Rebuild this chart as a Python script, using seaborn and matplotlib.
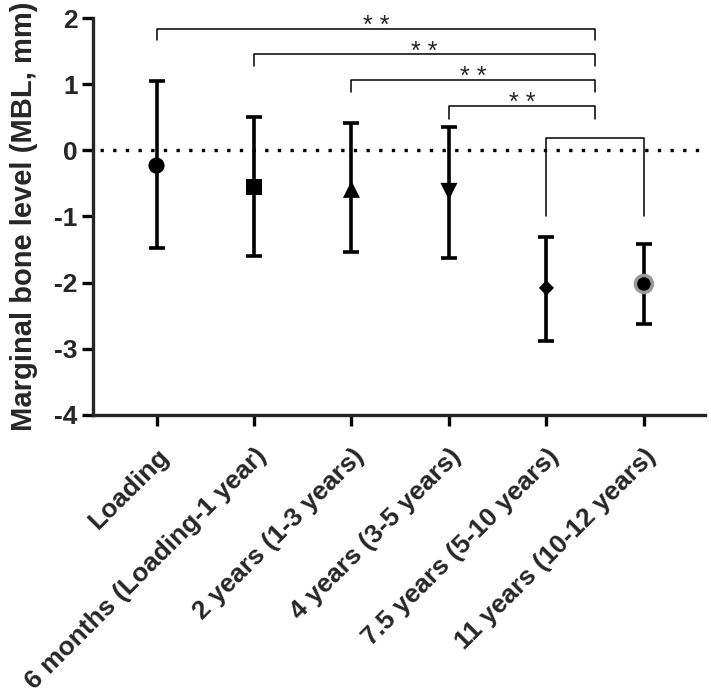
import matplotlib
matplotlib.use("Agg")
import matplotlib.pyplot as plt
import seaborn as sns
import pandas as pd
import numpy as np

categories = ["Loading", "6 months (Loading-1 year)", "2 years (1-3 years)",
              "4 years (3-5 years)", "7.5 years (5-10 years)", "11 years (10-12 years)"]
means = [-0.23, -0.55, -0.59, -0.62, -2.08, -2.02]
upper = [1.05, 0.50, 0.42, 0.35, -1.31, -1.42]
lower = [-1.48, -1.60, -1.54, -1.63, -2.88, -2.62]
marker_list = ["o", "s", "^", "v", "D", "o"]
sizes = [135, 140, 150, 150, 60, 150]
edge_colors = ["black", "black", "black", "black", "black", "#999999"]
edge_widths = [0, 0, 0, 0, 0, 2.5]

# significance brackets: (left index, right index, height, leg bottom, label)
br_left = [0, 1, 2, 3]
br_right = [4.5, 4.5, 4.5, 4.5]
br_top = [1.84, 1.45, 1.06, 0.67]
br_bottom = [1.67, 1.27, 0.88, 0.48]
br_labels = ["* *", "* *", "* *", "* *"]

sns.set_theme(style="ticks")
plt.rcParams['font.family'] = ['Liberation Sans', 'DejaVu Sans']
plt.rcParams['axes.unicode_minus'] = False

df = pd.DataFrame({"group": categories, "mean": means, "lo": lower, "hi": upper,
                   "pos": np.arange(len(categories))})

fig = plt.figure(figsize=(7.11, 6.95), dpi=100)
ax = fig.add_axes([0.131, 0.403, 0.861, 0.571])

ax.plot([-0.58, 5.63], [0, 0], color="black", lw=2.4, linestyle=(0, (1, 2.8)), zorder=1, clip_on=False)

for i, row in df.iterrows():
    ax.errorbar(row["pos"], row["mean"],
                yerr=[[row["mean"] - row["lo"]], [row["hi"] - row["mean"]]],
                fmt="none", ecolor="black", elinewidth=2.6, capsize=6, capthick=2.6, zorder=2)

sns.scatterplot(data=df, x="pos", y="mean", style="group", markers=dict(zip(categories, marker_list)),
                color="black", s=120, legend=False, ax=ax, zorder=3)
coll = ax.collections[-1]
coll.set_sizes(sizes)
coll.set_edgecolors(edge_colors)
coll.set_linewidths(edge_widths)

for l, r, t, b, lab in zip(br_left, br_right, br_top, br_bottom, br_labels):
    ax.plot([l, l, r, r], [b, t, t, b], color="black", lw=1.1, clip_on=False, zorder=1)
    ax.annotate(lab, xy=((l + r) / 2, t), xytext=(0, -3), textcoords="offset points",
                ha="center", va="baseline", fontsize=18, annotation_clip=False)
# bracket between 7.5 and 11 years
ax.plot([4, 4, 5, 5], [-1.0, 0.18, 0.18, -1.0], color="black", lw=1.1, zorder=1)

ax.set_xlim(-0.65, 5.63)
ax.set_ylim(-4, 2)
ax.set_yticks([2, 1, 0, -1, -2, -3, -4])
ax.set_xticks(df["pos"])
ax.set_xticklabels(categories, rotation=45, ha="right", rotation_mode="anchor",
                   fontsize=19, fontweight="bold")
for t in ax.get_yticklabels():
    t.set_fontsize(19)
    t.set_fontweight("bold")
ax.set_xlabel("")
ax.set_ylabel("Marginal bone level (MBL, mm)", fontsize=21, fontweight="bold", labelpad=12)
sns.despine(ax=ax)
for s in ["left", "bottom"]:
    ax.spines[s].set_linewidth(2.4)
ax.tick_params(axis="both", width=2.4, length=8, color="black", pad=3)
ax.tick_params(axis="x", pad=13)

fig.savefig("out.png", dpi=100)
